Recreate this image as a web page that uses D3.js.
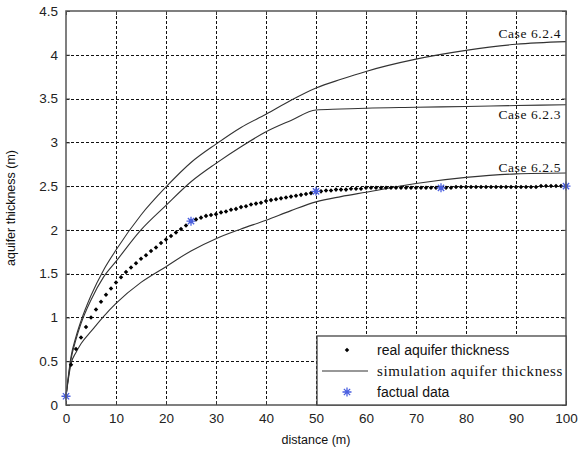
<!DOCTYPE html>
<html>
<head>
<meta charset="utf-8">
<script src="https://cdn.jsdelivr.net/npm/d3@7"></script>
<style>
  html, body { margin: 0; padding: 0; background: #fff; }
  svg { display: block; }
  .tick text { font-family: "Liberation Sans", Arial, sans-serif; font-size: 13.5px; fill: #222; }
</style>
</head>
<body>
<svg id="chart" width="583" height="461"></svg>
<script>
// Observed aquifer thickness, sampled every metre from 0 to 100 m
const realDistance = d3.range(0, 101);
const realThickness = [
  0.10, 0.46, 0.64, 0.77, 0.89, 1.00, 1.09, 1.18, 1.26, 1.33,
  1.40, 1.46, 1.52, 1.57, 1.62, 1.67, 1.71, 1.76, 1.80, 1.85,
  1.89, 1.93, 1.97, 2.01, 2.05, 2.10, 2.12, 2.14, 2.16, 2.17,
  2.18, 2.20, 2.21, 2.23, 2.24, 2.26, 2.27, 2.29, 2.30, 2.31,
  2.33, 2.34, 2.35, 2.36, 2.37, 2.38, 2.39, 2.40, 2.41, 2.42,
  2.44, 2.44, 2.45, 2.45, 2.46, 2.46, 2.46, 2.47, 2.47, 2.47,
  2.48, 2.48, 2.48, 2.48, 2.48, 2.48, 2.48, 2.48, 2.48, 2.48,
  2.48, 2.48, 2.48, 2.48, 2.48, 2.48, 2.48, 2.48, 2.49, 2.49,
  2.49, 2.49, 2.49, 2.49, 2.49, 2.49, 2.49, 2.49, 2.49, 2.49,
  2.49, 2.49, 2.49, 2.49, 2.49, 2.50, 2.50, 2.50, 2.50, 2.50,
  2.50
];

// Simulated thickness for the three cases
const simDistance = [0, 1, 2, 3, 5, 7.5, 10, 15, 20, 25, 30, 35, 40, 45, 50, 55, 60, 70, 80, 90, 100];
const case624 = [0.10, 0.55, 0.78, 0.96, 1.25, 1.54, 1.77, 2.17, 2.49, 2.77, 2.98, 3.17, 3.32, 3.48, 3.62, 3.72, 3.81, 3.95, 4.05, 4.12, 4.15];
const case623 = [0.10, 0.52, 0.75, 0.93, 1.20, 1.46, 1.64, 2.00, 2.28, 2.55, 2.76, 2.95, 3.12, 3.25, 3.37, 3.38, 3.39, 3.40, 3.41, 3.42, 3.43];
const case625 = [0.10, 0.47, 0.60, 0.70, 0.84, 1.01, 1.16, 1.40, 1.58, 1.76, 1.90, 2.01, 2.11, 2.22, 2.32, 2.38, 2.43, 2.53, 2.60, 2.64, 2.65];
const caseNames = ["Case 6.2.4", "Case 6.2.3", "Case 6.2.5"];

// Field measurements
const factualDistance = [0, 25, 50, 75, 100];
const factualThickness = [0.10, 2.10, 2.44, 2.48, 2.50];

// Axis ticks
const xTicks = [0, 10, 20, 30, 40, 50, 60, 70, 80, 90, 100];
const yTicks = [0, 0.5, 1, 1.5, 2, 2.5, 3, 3.5, 4, 4.5];

const legendLabels = ["real aquifer thickness", "simulation aquifer thickness", "factual data"];

const svg = d3.select("#chart");
const x = d3.scaleLinear().domain([0, 100]).range([66, 566]);
const y = d3.scaleLinear().domain([0, 4.5]).range([405, 11]);

const sans = "'Liberation Sans', Arial, sans-serif";
const serif = "'Liberation Serif', 'Times New Roman', serif";

// Dotted grid
const grid = svg.append("g").attr("stroke", "#111").attr("stroke-width", 1).attr("stroke-dasharray", "3,2");
grid.selectAll("line.v").data(xTicks.slice(1, -1)).join("line")
  .attr("x1", d => Math.round(x(d)) + 0.5).attr("x2", d => Math.round(x(d)) + 0.5)
  .attr("y1", y(4.5)).attr("y2", y(0));
grid.selectAll("line.h").data(yTicks.slice(1, -1)).join("line")
  .attr("y1", d => Math.round(y(d)) + 0.5).attr("y2", d => Math.round(y(d)) + 0.5)
  .attr("x1", x(0)).attr("x2", x(100));

// Axes with inward ticks
const fmt = d3.format("");
svg.append("g").attr("transform", `translate(0,${y(0)})`)
  .call(d3.axisBottom(x).tickValues(xTicks).tickFormat(fmt).tickSizeInner(-4).tickSizeOuter(0).tickPadding(8))
  .call(g => g.select(".domain").remove())
  .call(g => g.selectAll(".tick line").attr("stroke", "#333"));
svg.append("g").attr("transform", `translate(0,${y(4.5)})`)
  .call(d3.axisTop(x).tickValues(xTicks).tickFormat("").tickSizeInner(-4).tickSizeOuter(0))
  .call(g => g.select(".domain").remove())
  .call(g => g.selectAll(".tick line").attr("stroke", "#333"));
svg.append("g").attr("transform", `translate(${x(0)},0)`)
  .call(d3.axisLeft(y).tickValues(yTicks).tickFormat(fmt).tickSizeInner(-4).tickSizeOuter(0).tickPadding(8))
  .call(g => g.select(".domain").remove())
  .call(g => g.selectAll(".tick line").attr("stroke", "#333"));
svg.append("g").attr("transform", `translate(${x(100)},0)`)
  .call(d3.axisRight(y).tickValues(yTicks).tickFormat("").tickSizeInner(-4).tickSizeOuter(0))
  .call(g => g.select(".domain").remove())
  .call(g => g.selectAll(".tick line").attr("stroke", "#333"));

// Simulation curves
const line = d3.line().x(d => x(d[0])).y(d => y(d[1])).curve(d3.curveMonotoneX);
const cases = [case624, case623, case625];
svg.append("g").selectAll("path").data(cases).join("path")
  .attr("d", vals => line(simDistance.map((d, i) => [d, vals[i]])))
  .attr("fill", "none").attr("stroke", "#333").attr("stroke-width", 1.1);

// Case labels at the right end of each curve
const labelOffsets = [-4, 14, -1];
svg.append("g").selectAll("text").data(cases).join("text")
  .attr("x", x(100) - 5)
  .attr("y", (vals, i) => y(vals[vals.length - 1]) + labelOffsets[i])
  .attr("text-anchor", "end")
  .attr("font-family", serif)
  .attr("font-size", 13.5).attr("letter-spacing", 0.6).attr("fill", "#111")
  .text((vals, i) => caseNames[i]);

// Real thickness as dots
svg.append("g").selectAll("rect").data(realDistance).join("rect")
  .attr("x", (d) => x(d) - 1.6).attr("y", (d, i) => y(realThickness[i]) - 1.6)
  .attr("width", 3.2).attr("height", 3.2)
  .attr("transform", (d, i) => `rotate(45,${x(d)},${y(realThickness[i])})`)
  .attr("fill", "#000");

// Star marker path (plus and cross)
function star(cx, cy, r) {
  const q = r * 0.7;
  return `M${cx - r},${cy}H${cx + r}M${cx},${cy - r}V${cy + r}` +
         `M${cx - q},${cy - q}L${cx + q},${cy + q}M${cx - q},${cy + q}L${cx + q},${cy - q}`;
}
svg.append("g").selectAll("path").data(factualDistance).join("path")
  .attr("d", (d, i) => star(x(d), y(factualThickness[i]), 4.5))
  .attr("stroke", "#4a5fe0").attr("stroke-width", 1.3).attr("fill", "none");

// Plot frame
svg.append("rect").attr("x", x(0)).attr("y", y(4.5))
  .attr("width", x(100) - x(0)).attr("height", y(0) - y(4.5))
  .attr("fill", "none").attr("stroke", "#555").attr("stroke-width", 1.5);

// Legend
const lg = svg.append("g");
lg.append("rect").attr("x", 317).attr("y", 336).attr("width", x(100) - 317).attr("height", y(0) - 336)
  .attr("fill", "#fff").attr("stroke", "#444").attr("stroke-width", 1.3);
const rowY = [355, 376, 397];
lg.append("rect").attr("x", 347 - 1.6).attr("y", rowY[0] - 5 - 1.6).attr("width", 3.2).attr("height", 3.2)
  .attr("transform", `rotate(45,347,${rowY[0] - 5})`).attr("fill", "#000");
lg.append("line").attr("x1", 322).attr("x2", 368).attr("y1", rowY[1] - 5).attr("y2", rowY[1] - 5)
  .attr("stroke", "#333").attr("stroke-width", 1.1);
lg.append("path").attr("d", star(347, rowY[2] - 5, 4.5))
  .attr("stroke", "#4a5fe0").attr("stroke-width", 1.3).attr("fill", "none");
lg.selectAll("text").data(legendLabels).join("text")
  .attr("x", 377).attr("y", (d, i) => rowY[i])
  .attr("font-family", (d, i) => i === 1 ? serif : sans)
  .attr("font-size", (d, i) => i === 1 ? 15 : 14)
  .attr("letter-spacing", (d, i) => i === 1 ? 0.6 : 0)
  .attr("fill", "#111")
  .text(d => d);

// Axis titles
svg.append("text").attr("x", x(50)).attr("y", 444).attr("text-anchor", "middle")
  .attr("font-family", sans).attr("font-size", 12.5).attr("fill", "#111")
  .text("distance (m)");
svg.append("text").attr("transform", `translate(15,${y(2.25)}) rotate(-90)`).attr("text-anchor", "middle")
  .attr("font-family", sans).attr("font-size", 12.5).attr("fill", "#111")
  .text("aquifer thickness (m)");
</script>
</body>
</html>
